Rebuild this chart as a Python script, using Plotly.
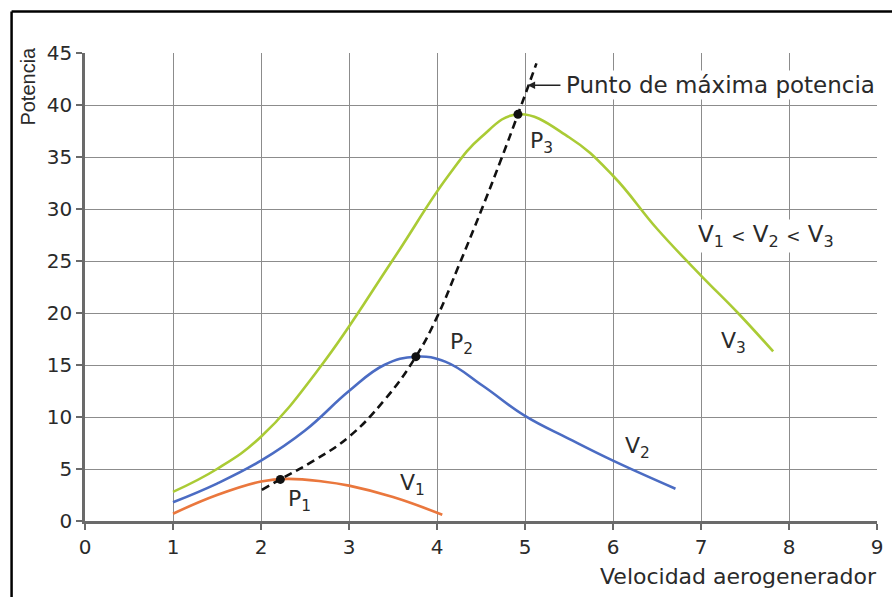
import plotly.graph_objects as go

# Power curves of a wind generator for three wind speeds (V1 < V2 < V3)
v1_x = [1.0, 1.5, 2.0, 2.3, 2.7, 3.0, 3.5, 4.06]
v1_y = [0.7, 2.5, 3.8, 4.05, 3.8, 3.4, 2.3, 0.6]

v2_x = [1.0, 1.5, 2.0, 2.5, 3.0, 3.4, 3.76, 4.1, 4.52, 5.0, 5.5, 6.0, 6.71]
v2_y = [1.8, 3.6, 5.8, 8.7, 12.5, 15.0, 15.8, 15.3, 13.0, 10.1, 7.9, 5.8, 3.1]

v3_x = [1.0, 1.5, 2.0, 2.69, 3.49, 4.12, 4.5, 4.92, 5.5, 6.0, 6.5, 7.0, 7.42, 7.82]
v3_y = [2.8, 5.0, 8.1, 15.0, 25.0, 33.1, 36.9, 39.1, 36.9, 33.2, 28.1, 23.6, 20.0, 16.3]

# Maximum power point locus
mp_x = [2.01, 2.22, 2.6, 3.0, 3.4, 3.76, 4.0, 4.25, 4.5, 4.73, 4.92, 5.13]
mp_y = [3.0, 4.0, 5.8, 8.1, 11.6, 15.8, 19.6, 24.6, 29.8, 34.8, 39.1, 44.0]

# Operating points P1, P2, P3
p_x = [2.22, 3.76, 4.92]
p_y = [4.0, 15.8, 39.1]

x_ticks = [0, 1, 2, 3, 4, 5, 6, 7, 8, 9]
y_ticks = [0, 5, 10, 15, 20, 25, 30, 35, 40, 45]

GREEN = "#aacb35"
BLUE = "#4b6cc3"
ORANGE = "#ea773d"
FONT = "DejaVu Sans"
TXT = "#2a2a2a"

fig = go.Figure()

spline = dict(shape="spline", smoothing=1.2)
fig.add_trace(go.Scatter(x=v3_x, y=v3_y, mode="lines",
                         line=dict(color=GREEN, width=2.6, **spline)))
fig.add_trace(go.Scatter(x=v2_x, y=v2_y, mode="lines",
                         line=dict(color=BLUE, width=2.6, **spline)))
fig.add_trace(go.Scatter(x=v1_x, y=v1_y, mode="lines",
                         line=dict(color=ORANGE, width=2.6, **spline)))
fig.add_trace(go.Scatter(x=mp_x, y=mp_y, mode="lines",
                         line=dict(color="#111111", width=2.6, dash="8px,5px", **spline)))
fig.add_trace(go.Scatter(x=p_x, y=p_y, mode="markers",
                         marker=dict(color="#111111", size=9)))

label_font = dict(family=FONT, size=22, color=TXT)

labels = [
    ("P<sub>3</sub>", 5.03, 36.4),
    ("P<sub>2</sub>", 4.12, 17.1),
    ("P<sub>1</sub>", 2.28, 2.0),
    ("V<sub>1</sub>", 3.56, 3.5),
    ("V<sub>2</sub>", 6.11, 7.1),
    ("V<sub>3</sub>", 7.21, 17.2),
]
for txt, x, y in labels:
    fig.add_annotation(x=x, y=y, text=txt, showarrow=False, xanchor="left",
                       yanchor="middle", font=label_font)

lt = "<span style='font-size:17px'>&lt;</span>"
fig.add_annotation(x=6.94, y=27.4,
                   text=f"V<sub>1</sub> {lt} V<sub>2</sub> {lt} V<sub>3</sub>",
                   showarrow=False, xanchor="left", yanchor="middle",
                   font=dict(family=FONT, size=23, color=TXT), bgcolor="white")

fig.add_annotation(x=5.44, y=41.9, text="Punto de máxima potencia",
                   showarrow=False, xanchor="left", yanchor="middle",
                   font=dict(family=FONT, size=23, color=TXT), bgcolor="white")
fig.add_annotation(x=5.03, y=41.9, ax=5.42, ay=41.9, axref="x", ayref="y",
                   text="", showarrow=True, arrowhead=2, arrowsize=1,
                   arrowwidth=1.5, arrowcolor="#222222", standoff=0)

# Axis titles
fig.add_annotation(xref="paper", yref="paper", x=1.003, y=-0.118,
                   text="Velocidad aerogenerador", showarrow=False,
                   xanchor="right", yanchor="middle",
                   font=dict(family=FONT, size=22, color=TXT))
fig.add_annotation(xref="paper", yref="paper", x=-0.0715, y=0.929, text="Potencia",
                   showarrow=False, textangle=-90, xanchor="center", yanchor="middle",
                   font=dict(family="Liberation Sans", size=20, color=TXT))

# Frame lines along the top and left edges
fig.add_shape(type="line", xref="paper", yref="paper", x0=-0.0927, x1=1.05,
              y0=1.0887, y1=1.0887, line=dict(color="black", width=2.5))
fig.add_shape(type="line", xref="paper", yref="paper", x0=-0.0927, x1=-0.0927,
              y0=1.0887, y1=-0.2, line=dict(color="black", width=2.5))

axis_common = dict(showgrid=True, gridcolor="#8c8c8c", gridwidth=1.3,
                   showline=True, linecolor="#6a6a6a", linewidth=2.5,
                   ticks="outside", ticklen=6, tickwidth=1.5, tickcolor="#6a6a6a",
                   tickfont=dict(family=FONT, size=20, color=TXT),
                   zeroline=False, fixedrange=True)

fig.update_xaxes(range=[0, 9], tickvals=x_ticks, **axis_common)
fig.update_yaxes(range=[0, 45], tickvals=y_ticks, **axis_common)

fig.update_layout(width=892, height=597, showlegend=False,
                  plot_bgcolor="white", paper_bgcolor="white",
                  margin=dict(l=85, r=9, t=53, b=76))

fig.write_html("out.html")
